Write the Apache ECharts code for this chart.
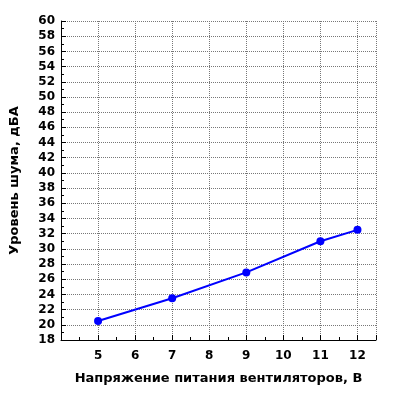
<!DOCTYPE html>
<html><head><meta charset="utf-8">
<script src="https://cdn.jsdelivr.net/npm/echarts@6/dist/echarts.min.js"></script>
<style>html,body{margin:0;background:#fff}#c{width:400px;height:400px}</style>
</head><body><div id="c"></div>
<script>
var voltage = [5, 7, 9, 11, 12];
var noise = [20.5, 23.5, 26.9, 31, 32.5];

var font = 'DejaVu Sans';
var chart = echarts.init(document.getElementById('c'));
chart.setOption({
    animation: false,
    grid: { left: 57, right: 24, top: 21, bottom: 60 },
    xAxis: {
        type: 'value', min: 4, max: 12.5, interval: 1,
        name: 'Напряжение питания вентиляторов, В', nameLocation: 'middle', nameGap: 32,
        nameTextStyle: { fontFamily: font, fontWeight: 'bold', fontSize: 13, color: '#000' },
        axisLine: { lineStyle: { color: '#000' } },
        axisTick: { inside: true, length: 5, lineStyle: { color: '#000' } },
        minorTick: { show: true, splitNumber: 2, length: 3, lineStyle: { color: '#000' } },
        axisLabel: { fontFamily: font, fontWeight: 'bold', fontSize: 12, color: '#000', margin: 10,
            formatter: function (v) { return (v === 4 || v % 1) ? '' : v; } },
        splitLine: { show: true, lineStyle: { type: 'dotted', color: '#777' } }
    },
    yAxis: {
        type: 'value', min: 18, max: 60, interval: 2,
        name: 'Уровень шума, дБА', nameLocation: 'middle', nameGap: 40,
        nameTextStyle: { fontFamily: font, fontWeight: 'bold', fontSize: 13, color: '#000' },
        axisLine: { show: true, lineStyle: { color: '#000' } },
        axisTick: { inside: true, length: 5, lineStyle: { color: '#000' } },
        minorTick: { show: true, splitNumber: 2, length: 3, lineStyle: { color: '#000' } },
        axisLabel: { fontFamily: font, fontWeight: 'bold', fontSize: 12, color: '#000', margin: 6 },
        splitLine: { show: true, lineStyle: { type: 'dotted', color: '#777' } }
    },
    series: [{
        type: 'line',
        data: voltage.map(function (v, i) { return [v, noise[i]]; }),
        color: '#0000ff',
        symbol: 'circle', symbolSize: 8,
        lineStyle: { width: 2 }
    }]
});
</script></body></html>
